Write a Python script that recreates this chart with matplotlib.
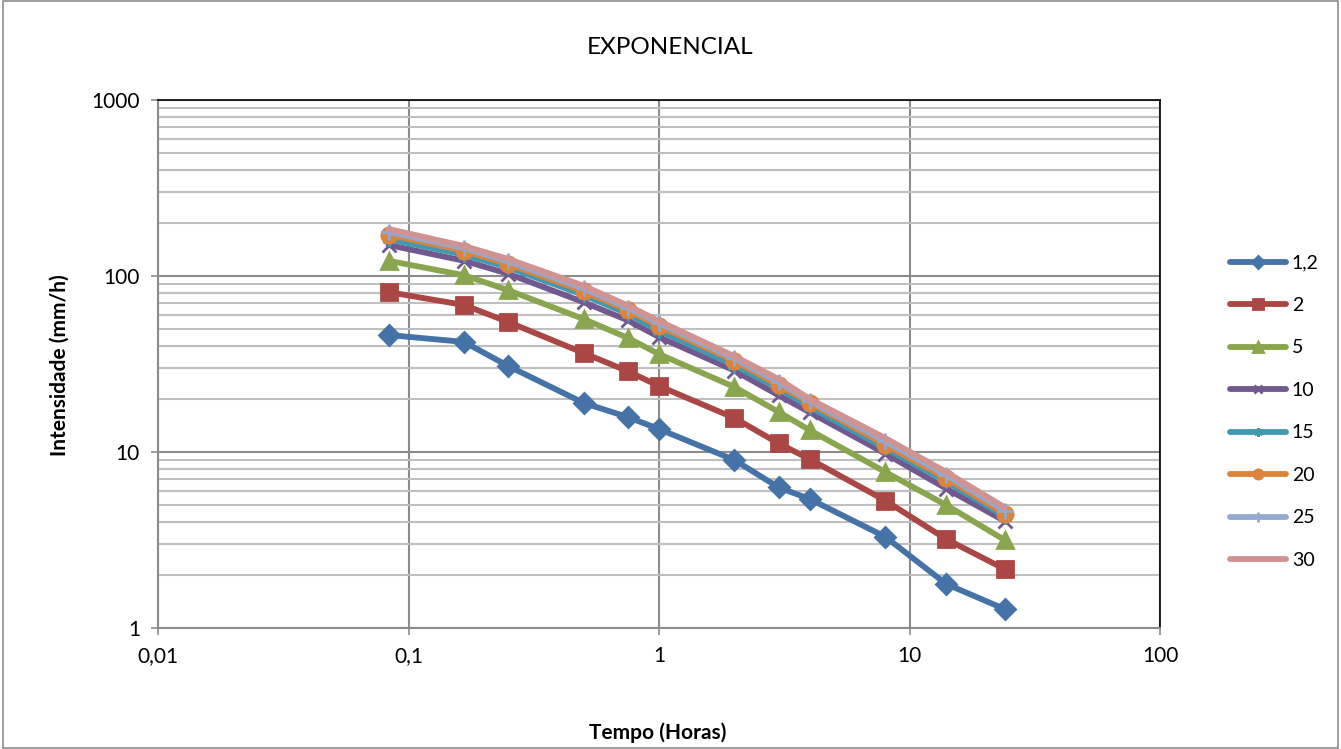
import matplotlib
matplotlib.use("Agg")
import matplotlib.pyplot as plt
from matplotlib.ticker import FixedLocator, FixedFormatter, LogLocator, NullFormatter

plt.rcParams['font.family'] = ['Lato', 'DejaVu Sans']

# duracoes em horas
tempo = [0.0833, 0.1667, 0.25, 0.5, 0.75, 1, 2, 3, 4, 8, 14, 24]

# intensidades (mm/h) por periodo de retorno
tr_labels = ["1,2", "2", "5", "10", "15", "20", "25", "30"]
i_12 = [46.2, 42.2, 30.8, 19.0, 15.8, 13.5, 9.0, 6.3, 5.4, 3.3, 1.78, 1.28]
i_2 = [81, 68.4, 54.8, 36.5, 28.8, 23.7, 15.6, 11.2, 9.1, 5.3, 3.2, 2.16]
i_5 = [122, 101, 83, 57, 44.5, 36, 23.4, 16.9, 13.3, 7.7, 5.0, 3.16]
i_10 = [150, 122, 103, 71, 56, 45, 29, 21, 16.8, 9.8, 6.2, 4.05]
i_15 = [162, 132, 112, 78, 61, 49, 31, 23, 18, 10.5, 6.8, 4.3]
i_20 = [172, 139, 117, 82, 64, 52, 33, 24, 19, 11, 7.1, 4.45]
i_25 = [178, 144, 121, 85, 66, 54, 34, 25, 19.5, 11.5, 7.4, 4.65]
i_30 = [185, 148, 125, 88, 68, 55.5, 35, 26, 20, 12, 7.7, 4.85]
series = [i_12, i_2, i_5, i_10, i_15, i_20, i_25, i_30]

cores = ["#4572A7", "#AA4643", "#89A54E", "#71588F", "#4198AF", "#DB843D", "#93A9CF", "#D19392"]
marcas = ["D", "s", "^", "x", (6, 2, 0), "o", "+", None]
tam = [10, 11, 11, 10, 10, 11, 12, 0]

fig = plt.figure(figsize=(13.41, 7.49), dpi=100)
ax = fig.add_axes([158/1341, 1 - 628/749, (1160-158)/1341, (628-100)/749])

for vals, lab, c, m, s in zip(series, tr_labels, cores, marcas, tam):
    ax.plot(tempo, vals, color=c, lw=4.2, marker=m, ms=s, mew=2,
            mec=c, mfc=c, label=lab, solid_capstyle='round')

ax.set_xscale('log')
ax.set_yscale('log')
ax.set_xlim(0.01, 100)
ax.set_ylim(1, 1000)

ax.xaxis.set_major_locator(FixedLocator([0.01, 0.1, 1, 10, 100]))
ax.xaxis.set_major_formatter(FixedFormatter(["0,01", "0,1", "1", "10", "100"]))
ax.xaxis.set_minor_locator(FixedLocator([]))
ax.yaxis.set_major_locator(FixedLocator([1, 10, 100, 1000]))
ax.yaxis.set_major_formatter(FixedFormatter(["1", "10", "100", "1000"]))
ax.yaxis.set_minor_locator(LogLocator(base=10, subs=range(2, 10)))
ax.yaxis.set_minor_formatter(NullFormatter())

ax.grid(True, which='major', axis='both', color='#8c8c8c', lw=1.5)
ax.grid(True, which='minor', axis='y', color='#bfbfbf', lw=1.5)
ax.set_axisbelow(True)

ax.tick_params(which='major', direction='out', length=5, width=1.2, color='#8c8c8c',
               labelsize=15, pad=8)
ax.tick_params(which='minor', length=0)

for sp in ['left', 'bottom']:
    ax.spines[sp].set_color('#8c8c8c')
    ax.spines[sp].set_linewidth(1.5)
for sp in ['top', 'right']:
    ax.spines[sp].set_color('black')
    ax.spines[sp].set_linewidth(1.2)

fig.text(670/1341, 1 - 47/749, "EXPONENCIAL", ha='center', va='center', fontsize=17.5)
fig.text(658/1341, 1 - 733/749, "Tempo (Horas)", ha='center', va='center',
         fontsize=15, fontweight='bold')
fig.text(60/1341, 1 - 365/749, "Intensidade (mm/h)", ha='center', va='center',
         fontsize=15, fontweight='bold', rotation=90)

leg = fig.legend(loc='upper left', bbox_to_anchor=(1212/1341, 1 - 237/749), frameon=False,
                 fontsize=14, labelspacing=1.31, handlelength=2.9, handletextpad=0.3,
                 markerscale=0.6)

# borda externa do grafico
fig.patches.append(plt.Rectangle((0.002, 0.002), 0.996, 0.996, transform=fig.transFigure,
                                 fill=False, edgecolor='#8c8c8c', lw=1.2))

plt.savefig("out.png", dpi=100)
plt.close()
